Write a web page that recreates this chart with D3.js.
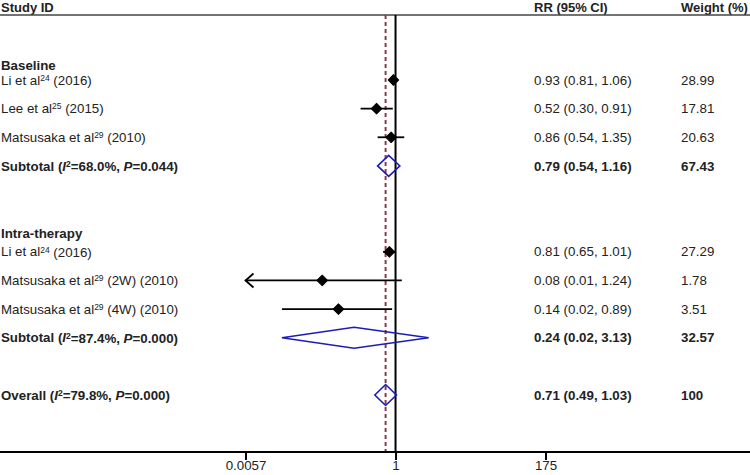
<!DOCTYPE html>
<html>
<head>
<meta charset="utf-8">
<script src="https://cdn.jsdelivr.net/npm/d3@7"></script>
<style>
  body { margin: 0; background: #fff; }
  svg text { font-family: "Liberation Sans", Arial, sans-serif; font-size: 13.3px; fill: #222; }
  .bold { font-weight: bold; }
  .head { font-size: 13px; }
</style>
</head>
<body>
<div id="chart"></div>
<script>
// Individual studies
const studyNames = ["Li et al", "Lee et al", "Matsusaka et al", "Li et al", "Matsusaka et al", "Matsusaka et al"];
const refNums = ["24", "25", "29", "24", "29", "29"];
const studySuffix = [" (2016)", " (2015)", " (2010)", " (2016)", " (2W) (2010)", " (4W) (2010)"];
const studyRow = [0, 1, 2, 6, 7, 8];
const rr = [0.93, 0.52, 0.86, 0.81, 0.08, 0.14];
// 2W lower bound printed as 0.01 but the line runs off the axis (arrow)
const rrLow = [0.81, 0.30, 0.54, 0.65, 0.005, 0.02];
const rrHigh = [1.06, 0.91, 1.35, 1.01, 1.24, 0.89];
const ciText = ["0.93 (0.81, 1.06)", "0.52 (0.30, 0.91)", "0.86 (0.54, 1.35)",
                "0.81 (0.65, 1.01)", "0.08 (0.01, 1.24)", "0.14 (0.02, 0.89)"];
const weights = ["28.99", "17.81", "20.63", "27.29", "1.78", "3.51"];

// Pooled estimates
const poolNames = ["Subtotal", "Subtotal", "Overall"];
const poolI2 = ["68.0%", "87.4%", "79.8%"];
const poolP = ["0.044", "0.000", "0.000"];
const poolRow = [3, 9, 11];
const poolRR = [0.79, 0.24, 0.71];
const poolLow = [0.54, 0.02, 0.49];
const poolHigh = [1.16, 3.13, 1.03];
const poolCiText = ["0.79 (0.54, 1.16)", "0.24 (0.02, 3.13)", "0.71 (0.49, 1.03)"];
const poolWeights = ["67.43", "32.57", "100"];

// Group headings
const groups = ["Baseline", "Intra-therapy"];
const groupRow = [-0.5, 5.35];

// Axis
const axisTicks = [0.0057, 1, 175];
const axisTickLabels = ["0.0057", "1", "175"];
const overallRR = 0.71;

const width = 750, height = 475;
const svg = d3.select('#chart').append('svg')
    .attr('width', width)
    .attr('height', height);

const x = d3.scaleLog().domain([0.0057, 175]).range([245.5, 545.5]);
const y = d3.scaleLinear().domain([0, 11]).range([80, 395]);
const headerY = 7, headerLineY = 15, axisY = 452;
const colCI = 534, colW = 681;

// Header
svg.append('text').attr('class', 'bold head').attr('x', 1).attr('y', headerY).attr('dy', '0.35em').text('Study ID');
svg.append('text').attr('class', 'bold head').attr('x', colCI).attr('y', headerY).attr('dy', '0.35em').text('RR (95% CI)');
svg.append('text').attr('class', 'bold head').attr('x', colW).attr('y', headerY).attr('dy', '0.35em').text('Weight (%)');
svg.append('line')
    .attr('x1', 0).attr('x2', width)
    .attr('y1', headerLineY).attr('y2', headerLineY)
    .style('stroke', '#444').style('stroke-width', 1.4);

// Reference lines
svg.append('line')
    .attr('x1', x(overallRR)).attr('x2', x(overallRR))
    .attr('y1', headerLineY).attr('y2', axisY)
    .style('stroke', '#8a3a4a').style('stroke-width', 2)
    .style('stroke-dasharray', '4,3');
svg.append('line')
    .attr('x1', x(1)).attr('x2', x(1))
    .attr('y1', headerLineY).attr('y2', axisY)
    .style('stroke', '#000').style('stroke-width', 2);

// Group headings
groups.forEach((g, i) => {
    svg.append('text').attr('class', 'bold')
        .attr('x', 1).attr('y', y(groupRow[i])).attr('dy', '0.35em')
        .text(g);
});

// Study rows
const xMin = x.domain()[0], xMax = x.domain()[1];
rr.forEach((v, i) => {
    const yy = y(studyRow[i]);
    const t = svg.append('text').attr('x', 1).attr('y', yy).attr('dy', '0.35em');
    t.append('tspan').text(studyNames[i]);
    t.append('tspan').attr('font-size', '8.5px').attr('dy', '-0.45em').text(refNums[i]);
    t.append('tspan').attr('dy', '0.3em').text(studySuffix[i]);

    svg.append('text').attr('x', colCI).attr('y', yy).attr('dy', '0.35em').text(ciText[i]);
    svg.append('text').attr('x', colW).attr('y', yy).attr('dy', '0.35em').text(weights[i]);

    const lo = Math.max(rrLow[i], xMin), hi = Math.min(rrHigh[i], xMax);
    svg.append('line')
        .attr('x1', x(lo)).attr('x2', x(hi))
        .attr('y1', yy).attr('y2', yy)
        .style('stroke', '#000').style('stroke-width', 1.8);
    if (rrLow[i] < xMin) {
        const ax = x(xMin);
        svg.append('path')
            .attr('d', `M${ax + 8},${yy - 7}L${ax},${yy}L${ax + 8},${yy + 7}`)
            .style('fill', 'none').style('stroke', '#000').style('stroke-width', 1.8);
    }
    svg.append('path')
        .attr('d', d3.symbol(d3.symbolSquare, 56)())
        .attr('transform', `translate(${x(v)},${yy}) rotate(45)`)
        .style('fill', '#000')
        .style('stroke', '#000').style('stroke-width', 1).style('stroke-linejoin', 'round');
});

// Pooled rows
poolRR.forEach((v, i) => {
    const yy = y(poolRow[i]);
    const t = svg.append('text').attr('class', 'bold').attr('x', 1).attr('y', yy).attr('dy', '0.35em');
    t.append('tspan').text(poolNames[i] + ' (');
    t.append('tspan').style('font-style', 'italic').text('I');
    t.append('tspan').attr('font-size', '8.5px').attr('dy', '-0.45em').text('2');
    t.append('tspan').attr('dy', '0.3em').text('=' + poolI2[i] + ', ');
    t.append('tspan').style('font-style', 'italic').text('P');
    t.append('tspan').text('=' + poolP[i] + ')');

    svg.append('text').attr('class', 'bold').attr('x', colCI).attr('y', yy).attr('dy', '0.35em').text(poolCiText[i]);
    svg.append('text').attr('class', 'bold').attr('x', colW).attr('y', yy).attr('dy', '0.35em').text(poolWeights[i]);

    const h = 10.5;
    svg.append('path')
        .attr('d', `M${x(poolLow[i])},${yy}L${x(v)},${yy - h}L${x(poolHigh[i])},${yy}L${x(v)},${yy + h}Z`)
        .style('fill', 'none').style('stroke', '#1c1cb8').style('stroke-width', 1.6);
});

// Bottom axis
svg.append('line')
    .attr('x1', 0).attr('x2', width)
    .attr('y1', axisY).attr('y2', axisY)
    .style('stroke', '#000').style('stroke-width', 2);

const axis = svg.append('g')
    .attr('transform', `translate(0,${axisY})`)
    .call(d3.axisBottom(x)
        .tickValues(axisTicks)
        .tickFormat((d, i) => axisTickLabels[i])
        .tickSize(8)
        .tickSizeOuter(0));
axis.select('.domain').remove();
axis.selectAll('.tick line').style('stroke', '#000').style('stroke-width', 2);
axis.selectAll('.tick text')
    .attr('y', 9)
    .style('font-family', '"Liberation Sans", Arial, sans-serif')
    .style('font-size', '13.3px')
    .style('fill', '#222');
</script>
</body>
</html>
